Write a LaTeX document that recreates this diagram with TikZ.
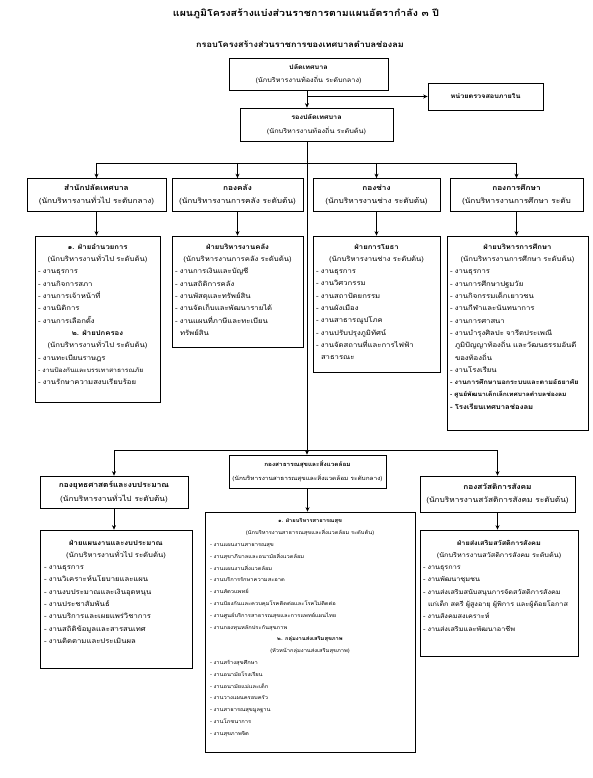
\documentclass[tikz,border=0pt]{standalone}
\usepackage{fontspec}
\setmainfont[Script=Thai, FakeStretch=1.15]{Loma}
\usetikzlibrary{arrows.meta}
\begin{document}
\begin{tikzpicture}[x=1pt,y=-1pt,
 box/.style={draw, line width=0.7pt, inner sep=0pt, font=\fontsize{7.2}{13.5}\selectfont, align=center},
 topbox/.style={box, font=\fontsize{6.3}{13.5}\selectfont},
 lst/.style={font=\fontsize{6.7}{12.3}\selectfont, inner sep=0pt, anchor=north},
 tiny/.style={font=\fontsize{5}{11.8}\selectfont, inner sep=0pt, anchor=north},
 ttl/.style={font=\fontsize{9.2}{11}\selectfont\bfseries, inner sep=0pt},
 ttlb/.style={font=\fontsize{7.9}{11}\selectfont\bfseries, inner sep=0pt},
 arr/.style={line width=0.7pt, -{Stealth[length=4.5pt,width=4pt]}},
 ln/.style={line width=0.7pt}]
\useasboundingbox (0,0) rectangle (592,778);
\fill[white] (0,0) rectangle (592,778);
% titles
\node[ttl] (t1l) at (306,14) {แผนภูมิโครงสร้างแบ่งส่วนราชการตามแผนอัตรากำลัง ๓ ปี};
\node[ttlb] (t2l) at (300,44) {กรอบโครงสร้างส่วนราชการของเทศบาลตำบลช่องลม};
% top
\node[topbox, minimum width=159, minimum height=32] (p) at (308.5,74) {\textbf{ปลัดเทศบาล}\\(นักบริหารงานท้องถิ่น ระดับกลาง)};
\node[topbox, minimum width=115, minimum height=27] (aud) at (485.5,96.5) {\textbf{หน่วยตรวจสอบภายใน}};
\node[topbox, minimum width=153, minimum height=33] (vp) at (316.5,124.5) {\textbf{รองปลัดเทศบาล}\\(นักบริหารงานท้องถิ่น ระดับต้น)};
\coordinate (tk) at (307,0);
\coordinate (j1) at (307,96.5);
\coordinate (h1) at (0,163);
\coordinate (h2) at (0,450);
% column heads
\node[box, minimum width=139, minimum height=33] (c1) at (96.5,195) {\textbf{สำนักปลัดเทศบาล}\\(นักบริหารงานทั่วไป ระดับกลาง)};
\node[box, minimum width=131, minimum height=33] (c2) at (237.5,195) {\textbf{กองคลัง}\\(นักบริหารงานการคลัง ระดับต้น)};
\node[box, minimum width=127, minimum height=33] (c3) at (376.5,195) {\textbf{กองช่าง}\\(นักบริหารงานช่าง ระดับต้น)};
\node[box, minimum width=133, minimum height=33] (c4) at (516.5,195) {\textbf{กองการศึกษา}\\(นักบริหารงานการศึกษา ระดับ};
% sub boxes
\node[box, minimum width=125, minimum height=166] (s1) at (97.5,319) {};
\node[box, minimum width=131, minimum height=111] (s2) at (237.5,291.5) {};
\node[box, minimum width=127, minimum height=136] (s3) at (376.5,304) {};
\node[box, minimum width=141, minimum height=194] (s4) at (517.5,333) {};
\node[lst, text width=119pt] (s1t) at ([yshift=-8pt]s1.north) {%
\centering\textbf{๑. ฝ่ายอำนวยการ}\\(นักบริหารงานทั่วไป ระดับต้น)\par
\raggedright - งานธุรการ\\- งานกิจการสภา\\- งานการเจ้าหน้าที่\\- งานนิติการ\\- งานการเลือกตั้ง\par
\centering\textbf{๒. ฝ่ายปกครอง}\\(นักบริหารงานทั่วไป ระดับต้น)\par
\raggedright - งานทะเบียนราษฎร\\\mbox{\fontsize{5.9}{12.3}\selectfont - งานป้องกันและบรรเทาสาธารณภัย}\\- งานรักษาความสงบเรียบร้อย\par};
\node[lst, text width=125pt] (s2t) at ([yshift=-8pt]s2.north) {%
\centering\textbf{ฝ่ายบริหารงานคลัง}\\(นักบริหารงานการคลัง ระดับต้น)\par
\raggedright - งานการเงินและบัญชี\\- งานสถิติการคลัง\\- งานพัสดุและทรัพย์สิน\\- งานจัดเก็บและพัฒนารายได้\\- งานแผนที่ภาษีและทะเบียน\\\hspace*{5pt}ทรัพย์สิน\par};
\node[lst, text width=121pt] (s3t) at ([yshift=-8pt]s3.north) {%
\centering\textbf{ฝ่ายการโยธา}\\(นักบริหารงานช่าง ระดับต้น)\par
\raggedright - งานธุรการ\\- งานวิศวกรรม\\- งานสถาปัตยกรรม\\- งานผังเมือง\\- งานสาธารณูปโภค\\- งานปรับปรุงภูมิทัศน์\\- งานจัดสถานที่และการไฟฟ้า\\\hspace*{5pt}สาธารณะ\par};
\node[lst, text width=135pt] (s4t) at ([yshift=-8pt]s4.north) {%
\centering\textbf{ฝ่ายบริหารการศึกษา}\\(นักบริหารงานการศึกษา ระดับต้น)\par
\raggedright - งานธุรการ\\- งานการศึกษาปฐมวัย\\- งานกิจกรรมเด็กเยาวชน\\- งานกีฬาและนันทนาการ\\- งานการศาสนา\\- งานบำรุงศิลปะ จารีตประเพณี\\\hspace*{5pt}ภูมิปัญญาท้องถิ่น และวัฒนธรรมอันดี\\\hspace*{5pt}ของท้องถิ่น\\- งานโรงเรียน\\{\fontsize{6.2}{12.3}\selectfont\textbf{- งานการศึกษานอกระบบและตามอัธยาศัย}}\\{\fontsize{5.8}{12.3}\selectfont\textbf{- ศูนย์พัฒนาเด็กเล็กเทศบาลตำบลช่องลม}}\\\textbf{- โรงเรียนเทศบาลช่องลม}\par};
% bottom row
\node[box, minimum width=148, minimum height=32] (b1) at (114,492) {\textbf{กองยุทธศาสตร์และงบประมาณ}\\(นักบริหารงานทั่วไป ระดับต้น)};
\node[box, font=\fontsize{5.6}{13.5}\selectfont, minimum width=157, minimum height=33] (b2) at (307.5,471.5) {\textbf{กองสาธารณสุขและสิ่งแวดล้อม}\\(นักบริหารงานสาธารณสุขและสิ่งแวดล้อม ระดับกลาง)};
\node[box, minimum width=155, minimum height=36] (b3) at (497.5,494) {\textbf{กองสวัสดิการสังคม}\\(นักบริหารงานสวัสดิการสังคม ระดับต้น)};
\node[box, minimum width=152, minimum height=138] (u1) at (116,599) {};
\node[box, minimum width=210, minimum height=240] (u2) at (310,632) {};
\node[box, minimum width=158, minimum height=126] (u3) at (499,593) {};
\node[lst, text width=144pt] (u1t) at ([yshift=-10pt]u1.north) {%
\centering\textbf{ฝ่ายแผนงานและงบประมาณ}\\(นักบริหารงานทั่วไป ระดับต้น)\par
\raggedright - งานธุรการ\\- งานวิเคราะห์นโยบายและแผน\\- งานงบประมาณและเงินอุดหนุน\\- งานประชาสัมพันธ์\\- งานบริการและเผยแพร่วิชาการ\\- งานสถิติข้อมูลและสารสนเทศ\\- งานติดตามและประเมินผล\par};
\node[tiny, text width=200pt] (u2t) at ([yshift=-7pt]u2.north) {%
\centering\textbf{๑. ฝ่ายบริหารสาธารณสุข}\\(นักบริหารงานสาธารณสุขและสิ่งแวดล้อม ระดับต้น)\par
\raggedright - งานแผนงานสาธารณสุข\\- งานสุขาภิบาลและอนามัยสิ่งแวดล้อม\\- งานแผนงานสิ่งแวดล้อม\\- งานบริการรักษาความสะอาด\\- งานสัตวแพทย์\\- งานป้องกันและควบคุมโรคติดต่อและโรคไม่ติดต่อ\\- งานศูนย์บริการสาธารณสุขและการแพทย์แผนไทย\\- งานกองทุนหลักประกันสุขภาพ\par
\centering\textbf{๒. กลุ่มงานส่งเสริมสุขภาพ}\\(หัวหน้ากลุ่มงานส่งเสริมสุขภาพ)\par
\raggedright - งานสร้างสุขศึกษา\\- งานอนามัยโรงเรียน\\- งานอนามัยแม่และเด็ก\\- งานวางแผนครอบครัว\\- งานสาธารณสุขมูลฐาน\\- งานโภชนาการ\\- งานสุขภาพจิต\par};
\node[lst, text width=152pt, font=\fontsize{6.3}{12.3}\selectfont] (u3t) at ([yshift=-10pt]u3.north) {%
\centering\textbf{ฝ่ายส่งเสริมสวัสดิการสังคม}\\(นักบริหารงานสวัสดิการสังคม ระดับต้น)\par
\raggedright - งานธุรการ\\- งานพัฒนาชุมชน\\- งานส่งเสริมสนับสนุนการจัดสวัสดิการสังคม\\\hspace*{5pt}แก่เด็ก สตรี ผู้สูงอายุ ผู้พิการ และผู้ด้อยโอกาส\\- งานสังคมสงเคราะห์\\- งานส่งเสริมและพัฒนาอาชีพ\par};
% connectors
\draw[arr] (p.south -| tk) -- (vp.north -| tk);
\draw[arr] (j1) -- (aud.west);
\draw[arr] (vp.south -| tk) -- (b2.north -| tk);
\draw[ln] (c1.north |- h1) -- (c4.north |- h1);
\foreach \c in {c1,c2,c3,c4} \draw[arr] (\c.north |- h1) -- (\c.north);
\draw[arr] (c1.south) -- (c1.south |- s1.north);
\draw[arr] (c2.south) -- (c2.south |- s2.north);
\draw[arr] (c3.south) -- (c3.south |- s3.north);
\draw[arr] (c4.south) -- (c4.south |- s4.north);
\draw[ln] (b1.north |- h2) -- (b3.north |- h2);
\draw[arr] (b1.north |- h2) -- (b1.north);
\draw[arr] (b3.north |- h2) -- (b3.north);
\draw[arr] (b1.south) -- (b1.south |- u1.north);
\draw[arr] (b2.south) -- (b2.south |- u2.north);
\draw[arr] (b3.south) -- (b3.south |- u3.north);
\end{tikzpicture}
\end{document}
